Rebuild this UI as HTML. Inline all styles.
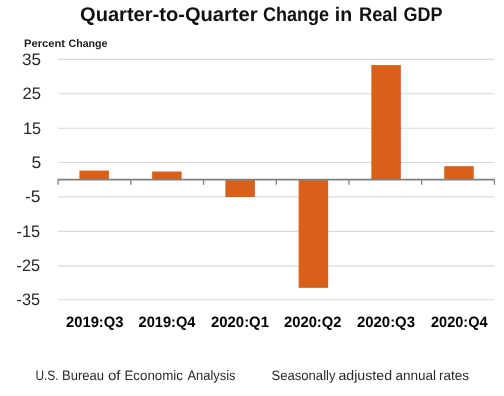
<!DOCTYPE html>
<html><head><meta charset="utf-8"><style>
html,body{margin:0;padding:0;background:#fff;width:504px;height:396px;overflow:hidden}
svg{display:block;font-family:"Liberation Sans",sans-serif;will-change:transform;text-rendering:geometricPrecision}
</style></head><body>
<svg width="504" height="396" viewBox="0 0 504 396">
<rect width="504" height="396" fill="#fff"/>
<line x1="58.1" x2="494.4" y1="59.35" y2="59.35" stroke="#D9D9D9" stroke-width="1.1"/>
<line x1="58.1" x2="494.4" y1="93.80" y2="93.80" stroke="#D9D9D9" stroke-width="1.1"/>
<line x1="58.1" x2="494.4" y1="128.30" y2="128.30" stroke="#D9D9D9" stroke-width="1.1"/>
<line x1="58.1" x2="494.4" y1="162.50" y2="162.50" stroke="#D9D9D9" stroke-width="1.1"/>
<line x1="58.1" x2="494.4" y1="196.90" y2="196.90" stroke="#D9D9D9" stroke-width="1.1"/>
<line x1="58.1" x2="494.4" y1="231.40" y2="231.40" stroke="#D9D9D9" stroke-width="1.1"/>
<line x1="58.1" x2="494.4" y1="265.85" y2="265.85" stroke="#D9D9D9" stroke-width="1.1"/>
<line x1="58.1" x2="494.4" y1="299.80" y2="299.80" stroke="#D9D9D9" stroke-width="1.1"/>
<rect x="79.40" y="170.60" width="29.5" height="9.05" fill="#D9601B"/>
<rect x="152.15" y="171.50" width="29.5" height="8.15" fill="#D9601B"/>
<rect x="225.40" y="179.65" width="29.5" height="17.35" fill="#D9601B"/>
<rect x="298.65" y="179.65" width="29.5" height="108.20" fill="#D9601B"/>
<rect x="371.35" y="65.07" width="29.5" height="114.58" fill="#D9601B"/>
<rect x="444.25" y="166.20" width="29.5" height="13.45" fill="#D9601B"/>
<line x1="57.5" x2="495.0" y1="179.65" y2="179.65" stroke="#808080" stroke-width="1.6"/>
<line x1="58.10" x2="58.10" y1="179.65" y2="184.85" stroke="#808080" stroke-width="1.3"/>
<line x1="130.82" x2="130.82" y1="179.65" y2="184.85" stroke="#808080" stroke-width="1.3"/>
<line x1="203.54" x2="203.54" y1="179.65" y2="184.85" stroke="#808080" stroke-width="1.3"/>
<line x1="276.26" x2="276.26" y1="179.65" y2="184.85" stroke="#808080" stroke-width="1.3"/>
<line x1="348.98" x2="348.98" y1="179.65" y2="184.85" stroke="#808080" stroke-width="1.3"/>
<line x1="421.70" x2="421.70" y1="179.65" y2="184.85" stroke="#808080" stroke-width="1.3"/>
<line x1="494.42" x2="494.42" y1="179.65" y2="184.85" stroke="#808080" stroke-width="1.3"/>
<text x="80.00" y="21.2" font-size="19.8" font-weight="bold" fill="#111111" textLength="177.50" lengthAdjust="spacingAndGlyphs">Quarter-to-Quarter</text>
<text x="263.00" y="21.2" font-size="19.8" font-weight="bold" fill="#111111" textLength="66.01" lengthAdjust="spacingAndGlyphs">Change</text>
<text x="334.83" y="21.2" font-size="19.8" font-weight="bold" fill="#111111" textLength="17.38" lengthAdjust="spacingAndGlyphs">in</text>
<text x="358.98" y="21.2" font-size="19.8" font-weight="bold" fill="#111111" textLength="38.56" lengthAdjust="spacingAndGlyphs">Real</text>
<text x="403.48" y="21.2" font-size="19.8" font-weight="bold" fill="#111111" textLength="39.04" lengthAdjust="spacingAndGlyphs">GDP</text>
<text x="23.98" y="46.9" font-size="10.9" font-weight="bold" fill="#1a1a1a" textLength="41.04" lengthAdjust="spacingAndGlyphs">Percent</text>
<text x="68.49" y="46.9" font-size="10.9" font-weight="bold" fill="#1a1a1a" textLength="39.02" lengthAdjust="spacingAndGlyphs">Change</text>
<text x="35.47" y="379.8" font-size="13.7" fill="#2a2a2a" textLength="23.08" lengthAdjust="spacingAndGlyphs">U.S.</text>
<text x="61.97" y="379.8" font-size="13.7" fill="#2a2a2a" textLength="42.06" lengthAdjust="spacingAndGlyphs">Bureau</text>
<text x="107.95" y="379.8" font-size="13.7" fill="#2a2a2a" textLength="12.55" lengthAdjust="spacingAndGlyphs">of</text>
<text x="124.49" y="379.8" font-size="13.7" fill="#2a2a2a" textLength="58.51" lengthAdjust="spacingAndGlyphs">Economic</text>
<text x="187.50" y="379.8" font-size="13.7" fill="#2a2a2a" textLength="48.01" lengthAdjust="spacingAndGlyphs">Analysis</text>
<text x="271.49" y="379.8" font-size="13.7" fill="#2a2a2a" textLength="64.01" lengthAdjust="spacingAndGlyphs">Seasonally</text>
<text x="338.48" y="379.8" font-size="13.7" fill="#2a2a2a" textLength="53.54" lengthAdjust="spacingAndGlyphs">adjusted</text>
<text x="395.47" y="379.8" font-size="13.7" fill="#2a2a2a" textLength="40.56" lengthAdjust="spacingAndGlyphs">annual</text>
<text x="438.98" y="379.8" font-size="13.7" fill="#2a2a2a" textLength="30.05" lengthAdjust="spacingAndGlyphs">rates</text>
<text x="66.00" y="326.7" font-size="15.0" font-weight="bold" fill="#000" textLength="57.51" lengthAdjust="spacingAndGlyphs">2019:Q3</text>
<text x="138.49" y="326.7" font-size="15.0" font-weight="bold" fill="#000" textLength="57.01" lengthAdjust="spacingAndGlyphs">2019:Q4</text>
<text x="210.99" y="326.7" font-size="15.0" font-weight="bold" fill="#000" textLength="58.02" lengthAdjust="spacingAndGlyphs">2020:Q1</text>
<text x="283.99" y="326.7" font-size="15.0" font-weight="bold" fill="#000" textLength="57.52" lengthAdjust="spacingAndGlyphs">2020:Q2</text>
<text x="356.98" y="326.7" font-size="15.0" font-weight="bold" fill="#000" textLength="58.03" lengthAdjust="spacingAndGlyphs">2020:Q3</text>
<text x="430.99" y="326.7" font-size="15.0" font-weight="bold" fill="#000" textLength="56.53" lengthAdjust="spacingAndGlyphs">2020:Q4</text>
<text x="21.96" y="64.8" font-size="16.6" fill="#262626" textLength="19.06" lengthAdjust="spacingAndGlyphs">35</text>
<text x="22.48" y="99.25" font-size="16.6" fill="#262626" textLength="18.55" lengthAdjust="spacingAndGlyphs">25</text>
<text x="22.94" y="133.75" font-size="16.6" fill="#262626" textLength="18.13" lengthAdjust="spacingAndGlyphs">15</text>
<text x="31.40" y="167.95" font-size="16.6" fill="#262626" textLength="9.77" lengthAdjust="spacingAndGlyphs">5</text>
<text x="24.96" y="202.35" font-size="16.6" fill="#262626" textLength="15.57" lengthAdjust="spacingAndGlyphs">-5</text>
<text x="16.47" y="236.85" font-size="16.6" fill="#262626" textLength="23.57" lengthAdjust="spacingAndGlyphs">-15</text>
<text x="16.47" y="271.3" font-size="16.6" fill="#262626" textLength="23.57" lengthAdjust="spacingAndGlyphs">-25</text>
<text x="16.47" y="305.25" font-size="16.6" fill="#262626" textLength="23.57" lengthAdjust="spacingAndGlyphs">-35</text>
</svg>
</body></html>
